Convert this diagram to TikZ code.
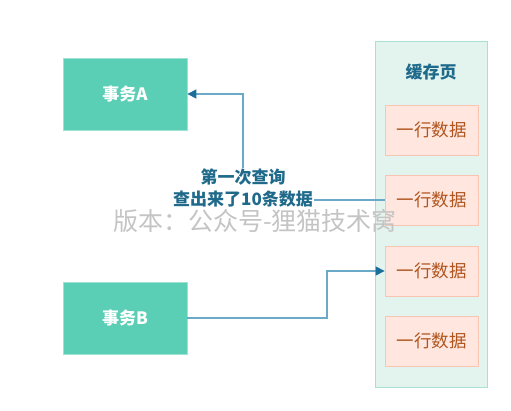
\documentclass[tikz,border=0pt]{standalone}
\usepackage{fontspec}
\setmainfont{Noto Sans CJK SC}
\usetikzlibrary{arrows.meta}
\definecolor{txbox}{HTML}{5BCFB5}
\definecolor{txborder}{HTML}{9EE3D2}
\definecolor{cachefill}{HTML}{E3F4EF}
\definecolor{cacheborder}{HTML}{A8E0D3}
\definecolor{rowfill}{HTML}{FFE7DF}
\definecolor{rowborder}{HTML}{F8C5B2}
\definecolor{rowtext}{HTML}{B0541E}
\definecolor{lbltext}{HTML}{1F6A8A}
\definecolor{linecol}{HTML}{6AAAC8}
\definecolor{tipcol}{HTML}{1A6E99}
\definecolor{wm}{HTML}{C4C4C4}
\tikzset{
  txnode/.style={draw=txborder, fill=txbox, line width=0.8pt, minimum width=124pt, minimum height=72pt, inner sep=0pt, text=white, font=\fontsize{17}{19}\selectfont\bfseries},
  rownode/.style={draw=rowborder, fill=rowfill, line width=0.8pt, minimum width=93pt, minimum height=50pt, inner sep=0pt, text=rowtext, font=\fontsize{17.5}{19}\selectfont},
  lbl/.style={text=lbltext, inner sep=1pt, font=\fontsize{17}{19}\selectfont\bfseries},
  conn/.style={draw=linecol, line width=1.1pt},
  tip/.style={-{Triangle[length=9pt,width=9pt,fill=tipcol,color=tipcol]}}
}
\begin{document}
\begin{tikzpicture}[x=1pt,y=-1pt]
\useasboundingbox (0,0) rectangle (511,411);
\node[draw=cacheborder, fill=cachefill, line width=0.8pt, minimum width=112pt, minimum height=346pt, inner sep=0pt] (cache) at (431,214) {};
\node[text=lbltext, font=\fontsize{17}{19}\selectfont\bfseries] (ctitle) at (431,72) {缓存页};
\node[rownode] (r1) at (431.5,130) {一行数据};
\node[rownode] (r2) at (431.5,200) {一行数据};
\node[rownode] (r3) at (431.5,271) {一行数据};
\node[rownode] (r4) at (431.5,341) {一行数据};
\node[txnode] (A) at (125,94) {事务A};
\node[txnode] (B) at (125,318) {事务B};
\node[text=wm, font=\fontsize{25}{27}\selectfont, inner sep=0pt] (wmark) at (255,221) {版本：公众号-狸猫技术窝};
\node[lbl] (l1) at (243,177) {第一次查询};
\node[lbl] (l2) at (243,199) {查出来了10条数据};
\draw[conn] (r2.west) -- (r2.west -| l2.east);
\draw[conn,tip] (l1.north) |- (A.east);
\coordinate (bB) at (327,318);
\draw[conn,tip] (B.east) -- (bB) |- (r3.west);
\end{tikzpicture}
\end{document}
